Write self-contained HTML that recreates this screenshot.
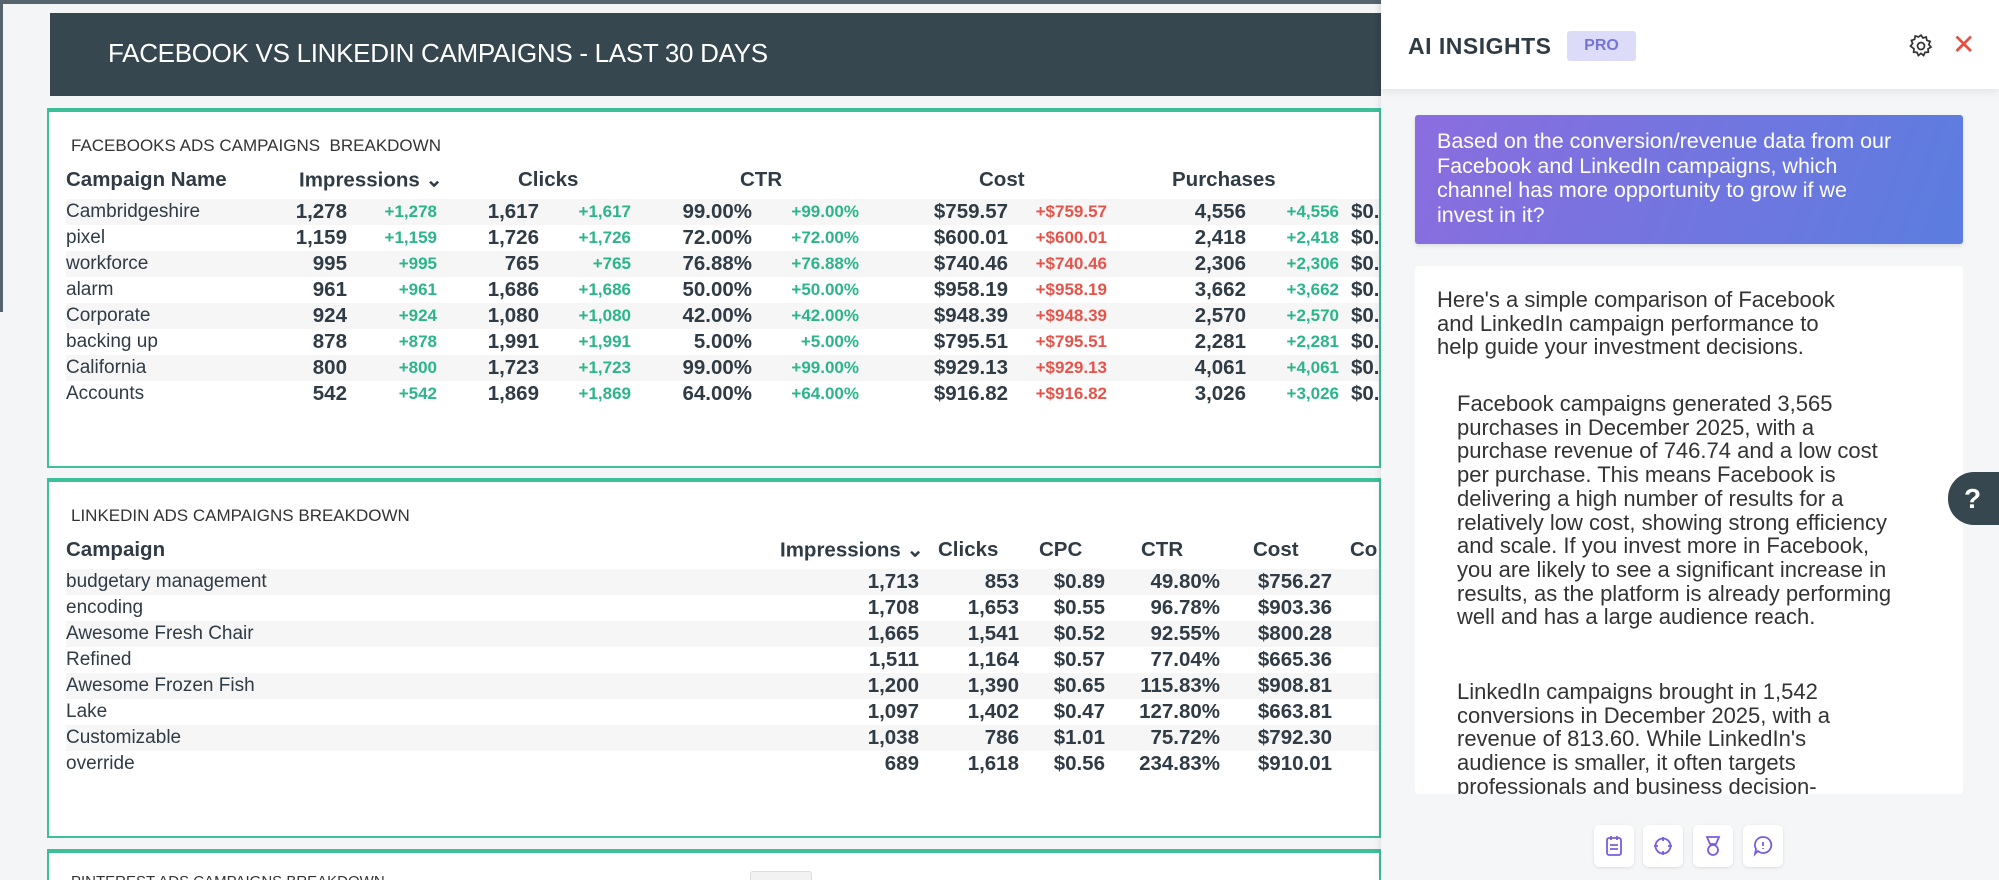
<!DOCTYPE html>
<html><head><meta charset="utf-8"><style>
*{margin:0;padding:0;box-sizing:border-box}
html,body{width:1999px;height:880px;overflow:hidden}
body{background:#f4f5f6;font-family:"Liberation Sans",sans-serif;color:#2f3b45;position:relative}
.abs{position:absolute}
.panel{position:absolute;left:47px;width:1334px;background:#fff;border:2px solid #3dbf9a;border-top-width:4px;overflow:hidden}
.ptitle{position:absolute;left:22px;font-size:17px;color:#333;white-space:nowrap}
.hd{position:absolute;font-size:20.5px;font-weight:bold;white-space:nowrap;transform:translateY(-50%)}
.row{position:absolute;left:17px;right:0;height:26px;font-size:19px;line-height:26px;white-space:nowrap}
.row.g{background:#f6f6f6}
.row span{position:absolute;top:0}
.v{font-weight:bold;font-size:20.5px}
.gr{color:#2bb58a;font-size:17px;font-weight:bold}
.rd{color:#e5534b;font-size:17px;font-weight:bold}
.ai p{font-size:22px;line-height:23.7px;color:#333}
</style></head><body>
<div class="abs" style="left:0;top:0;width:1381px;height:4px;background:#56646e"></div>
<div class="abs" style="left:0;top:0;width:3px;height:312px;background:#56646e"></div>
<div class="abs" style="left:50px;top:13px;width:1331px;height:83px;background:#36474f"></div>
<div class="abs" style="left:108px;top:38px;font-size:26px;color:#fff;letter-spacing:-0.3px;white-space:nowrap">FACEBOOK VS LINKEDIN CAMPAIGNS - LAST 30 DAYS</div>

<!-- Facebook panel -->
<div class="panel" style="top:108px;height:360px">
<div class="ptitle" style="top:24px">FACEBOOKS ADS CAMPAIGNS&nbsp; BREAKDOWN</div>
<div class="hd" style="left:17px;top:68px">Campaign Name</div>
<div class="hd" style="left:250px;top:68px">Impressions &#8964;</div>
<div class="hd" style="left:469px;top:68px">Clicks</div>
<div class="hd" style="left:691px;top:68px">CTR</div>
<div class="hd" style="left:930px;top:68px">Cost</div>
<div class="hd" style="left:1123px;top:68px">Purchases</div>
<div class="row g" style="top:87px"><span style="left:0">Cambridgeshire</span><span class="v" style="right:1032px">1,278</span><span class="gr" style="right:942px">+1,278</span><span class="v" style="right:840px">1,617</span><span class="gr" style="right:748px">+1,617</span><span class="v" style="right:627px">99.00%</span><span class="gr" style="right:520px">+99.00%</span><span class="v" style="right:371px">$759.57</span><span class="rd" style="right:272px">+$759.57</span><span class="v" style="right:133px">4,556</span><span class="gr" style="right:40px">+4,556</span><span class="v" style="left:1285px">$0.</span></div>
<div class="row" style="top:113px"><span style="left:0">pixel</span><span class="v" style="right:1032px">1,159</span><span class="gr" style="right:942px">+1,159</span><span class="v" style="right:840px">1,726</span><span class="gr" style="right:748px">+1,726</span><span class="v" style="right:627px">72.00%</span><span class="gr" style="right:520px">+72.00%</span><span class="v" style="right:371px">$600.01</span><span class="rd" style="right:272px">+$600.01</span><span class="v" style="right:133px">2,418</span><span class="gr" style="right:40px">+2,418</span><span class="v" style="left:1285px">$0.</span></div>
<div class="row g" style="top:139px"><span style="left:0">workforce</span><span class="v" style="right:1032px">995</span><span class="gr" style="right:942px">+995</span><span class="v" style="right:840px">765</span><span class="gr" style="right:748px">+765</span><span class="v" style="right:627px">76.88%</span><span class="gr" style="right:520px">+76.88%</span><span class="v" style="right:371px">$740.46</span><span class="rd" style="right:272px">+$740.46</span><span class="v" style="right:133px">2,306</span><span class="gr" style="right:40px">+2,306</span><span class="v" style="left:1285px">$0.</span></div>
<div class="row" style="top:165px"><span style="left:0">alarm</span><span class="v" style="right:1032px">961</span><span class="gr" style="right:942px">+961</span><span class="v" style="right:840px">1,686</span><span class="gr" style="right:748px">+1,686</span><span class="v" style="right:627px">50.00%</span><span class="gr" style="right:520px">+50.00%</span><span class="v" style="right:371px">$958.19</span><span class="rd" style="right:272px">+$958.19</span><span class="v" style="right:133px">3,662</span><span class="gr" style="right:40px">+3,662</span><span class="v" style="left:1285px">$0.</span></div>
<div class="row g" style="top:191px"><span style="left:0">Corporate</span><span class="v" style="right:1032px">924</span><span class="gr" style="right:942px">+924</span><span class="v" style="right:840px">1,080</span><span class="gr" style="right:748px">+1,080</span><span class="v" style="right:627px">42.00%</span><span class="gr" style="right:520px">+42.00%</span><span class="v" style="right:371px">$948.39</span><span class="rd" style="right:272px">+$948.39</span><span class="v" style="right:133px">2,570</span><span class="gr" style="right:40px">+2,570</span><span class="v" style="left:1285px">$0.</span></div>
<div class="row" style="top:217px"><span style="left:0">backing up</span><span class="v" style="right:1032px">878</span><span class="gr" style="right:942px">+878</span><span class="v" style="right:840px">1,991</span><span class="gr" style="right:748px">+1,991</span><span class="v" style="right:627px">5.00%</span><span class="gr" style="right:520px">+5.00%</span><span class="v" style="right:371px">$795.51</span><span class="rd" style="right:272px">+$795.51</span><span class="v" style="right:133px">2,281</span><span class="gr" style="right:40px">+2,281</span><span class="v" style="left:1285px">$0.</span></div>
<div class="row g" style="top:243px"><span style="left:0">California</span><span class="v" style="right:1032px">800</span><span class="gr" style="right:942px">+800</span><span class="v" style="right:840px">1,723</span><span class="gr" style="right:748px">+1,723</span><span class="v" style="right:627px">99.00%</span><span class="gr" style="right:520px">+99.00%</span><span class="v" style="right:371px">$929.13</span><span class="rd" style="right:272px">+$929.13</span><span class="v" style="right:133px">4,061</span><span class="gr" style="right:40px">+4,061</span><span class="v" style="left:1285px">$0.</span></div>
<div class="row" style="top:269px"><span style="left:0">Accounts</span><span class="v" style="right:1032px">542</span><span class="gr" style="right:942px">+542</span><span class="v" style="right:840px">1,869</span><span class="gr" style="right:748px">+1,869</span><span class="v" style="right:627px">64.00%</span><span class="gr" style="right:520px">+64.00%</span><span class="v" style="right:371px">$916.82</span><span class="rd" style="right:272px">+$916.82</span><span class="v" style="right:133px">3,026</span><span class="gr" style="right:40px">+3,026</span><span class="v" style="left:1285px">$0.</span></div>
</div>

<!-- LinkedIn panel -->
<div class="panel" style="top:478px;height:360px">
<div class="ptitle" style="top:24px">LINKEDIN ADS CAMPAIGNS BREAKDOWN</div>
<div class="hd" style="left:17px;top:68px">Campaign</div>
<div class="hd" style="left:731px;top:68px">Impressions &#8964;</div>
<div class="hd" style="left:889px;top:68px">Clicks</div>
<div class="hd" style="left:990px;top:68px">CPC</div>
<div class="hd" style="left:1092px;top:68px">CTR</div>
<div class="hd" style="left:1204px;top:68px">Cost</div>
<div class="hd" style="left:1301px;top:68px">Co</div>
<div class="row g" style="top:87px"><span style="left:0">budgetary management</span><span class="v" style="right:460px">1,713</span><span class="v" style="right:360px">853</span><span class="v" style="right:274px">$0.89</span><span class="v" style="right:159px">49.80%</span><span class="v" style="right:47px">$756.27</span></div>
<div class="row" style="top:113px"><span style="left:0">encoding</span><span class="v" style="right:460px">1,708</span><span class="v" style="right:360px">1,653</span><span class="v" style="right:274px">$0.55</span><span class="v" style="right:159px">96.78%</span><span class="v" style="right:47px">$903.36</span></div>
<div class="row g" style="top:139px"><span style="left:0">Awesome Fresh Chair</span><span class="v" style="right:460px">1,665</span><span class="v" style="right:360px">1,541</span><span class="v" style="right:274px">$0.52</span><span class="v" style="right:159px">92.55%</span><span class="v" style="right:47px">$800.28</span></div>
<div class="row" style="top:165px"><span style="left:0">Refined</span><span class="v" style="right:460px">1,511</span><span class="v" style="right:360px">1,164</span><span class="v" style="right:274px">$0.57</span><span class="v" style="right:159px">77.04%</span><span class="v" style="right:47px">$665.36</span></div>
<div class="row g" style="top:191px"><span style="left:0">Awesome Frozen Fish</span><span class="v" style="right:460px">1,200</span><span class="v" style="right:360px">1,390</span><span class="v" style="right:274px">$0.65</span><span class="v" style="right:159px">115.83%</span><span class="v" style="right:47px">$908.81</span></div>
<div class="row" style="top:217px"><span style="left:0">Lake</span><span class="v" style="right:460px">1,097</span><span class="v" style="right:360px">1,402</span><span class="v" style="right:274px">$0.47</span><span class="v" style="right:159px">127.80%</span><span class="v" style="right:47px">$663.81</span></div>
<div class="row g" style="top:243px"><span style="left:0">Customizable</span><span class="v" style="right:460px">1,038</span><span class="v" style="right:360px">786</span><span class="v" style="right:274px">$1.01</span><span class="v" style="right:159px">75.72%</span><span class="v" style="right:47px">$792.30</span></div>
<div class="row" style="top:269px"><span style="left:0">override</span><span class="v" style="right:460px">689</span><span class="v" style="right:360px">1,618</span><span class="v" style="right:274px">$0.56</span><span class="v" style="right:159px">234.83%</span><span class="v" style="right:47px">$910.01</span></div>
</div>

<!-- Pinterest panel -->
<div class="panel" style="top:849px;height:31px;border-bottom:none">
<div class="ptitle" style="top:20px;font-size:15px">PINTEREST ADS CAMPAIGNS BREAKDOWN</div>
</div>
<div class="abs" style="left:750px;top:871px;width:62px;height:9px;background:#f2f2f2;border:1px solid #ddd;border-bottom:none;border-radius:3px 3px 0 0"></div>

<!-- AI panel -->
<div class="abs" style="left:1381px;top:0;width:618px;height:880px;background:#f5f6f7;box-shadow:-2px 0 6px rgba(0,0,0,0.08)"></div>
<div class="abs" style="left:1381px;top:0;width:618px;height:89px;background:#fff;box-shadow:0 3px 8px rgba(0,0,0,0.07)"></div>
<div class="abs" style="left:1408px;top:33px;font-size:23px;font-weight:bold;color:#2f3b45;letter-spacing:0.5px">AI INSIGHTS</div>
<div class="abs" style="left:1567px;top:31px;width:69px;height:30px;background:#dcdcf8;color:#7575d6;font-weight:bold;font-size:16px;line-height:30px;text-align:center;border-radius:3px">PRO</div>
<svg class="abs" style="left:1908px;top:33px" width="26" height="26" viewBox="0 0 24 24" fill="none" stroke="#333" stroke-width="1.6"><circle cx="12" cy="12" r="3.2"/><path d="M12 2l1.8 2.6 3-.9.6 3.1 3 1-1.2 2.9 2 2.3-2.7 1.6.3 3.1-3.1.2-1.3 2.9-2.4-2-2.4 2-1.3-2.9-3.1-.2.3-3.1L2.3 12l2-2.3L3.1 6.8l3-1 .6-3.1 3 .9z"/></svg>
<div class="abs" style="left:1952px;top:28px;font-size:28px;color:#e74c3c">✕</div>

<div class="abs" style="left:1415px;top:115px;width:548px;height:129px;background:linear-gradient(110deg,#8b6ddf,#5b7ddf);border-radius:3px;box-shadow:0 2px 4px rgba(0,0,0,0.1)"></div>
<div class="abs" style="left:1437px;top:129px;width:472px;font-size:21.5px;line-height:24.5px;color:#fff">Based on the conversion/revenue data from our Facebook and LinkedIn campaigns, which channel has more opportunity to grow if we invest in it?</div>

<div class="abs" style="left:1415px;top:266px;width:548px;height:528px;background:#fff;border-radius:4px;overflow:hidden">
<div class="ai abs" style="left:22px;top:22px;width:425px"><p>Here's a simple comparison of Facebook and LinkedIn campaign performance to help guide your investment decisions.</p></div>
<div class="ai abs" style="left:42px;top:126px;width:452px"><p>Facebook campaigns generated 3,565 purchases in December 2025, with a purchase revenue of 746.74 and a low cost per purchase. This means Facebook is delivering a high number of results for a relatively low cost, showing strong efficiency and scale. If you invest more in Facebook, you are likely to see a significant increase in results, as the platform is already performing well and has a large audience reach.</p></div>
<div class="ai abs" style="left:42px;top:414px;width:430px"><p>LinkedIn campaigns brought in 1,542 conversions in December 2025, with a revenue of 813.60. While LinkedIn's audience is smaller, it often targets professionals and business decision-makers.</p></div>
</div>

<div class="abs" style="left:1948px;top:472px;width:60px;height:53px;background:#37474f;border-radius:26px 0 0 26px;color:#fff;font-size:28px;font-weight:bold;line-height:53px;padding-left:16px">?</div>

<div class="abs" style="left:1594px;top:825px;width:40px;height:42px;background:#fff;border-radius:6px;box-shadow:0 1px 3px rgba(0,0,0,0.1)"></div>
<div class="abs" style="left:1643px;top:825px;width:40px;height:42px;background:#fff;border-radius:6px;box-shadow:0 1px 3px rgba(0,0,0,0.1)"></div>
<div class="abs" style="left:1693px;top:825px;width:40px;height:42px;background:#fff;border-radius:6px;box-shadow:0 1px 3px rgba(0,0,0,0.1)"></div>
<div class="abs" style="left:1743px;top:825px;width:40px;height:42px;background:#fff;border-radius:6px;box-shadow:0 1px 3px rgba(0,0,0,0.1)"></div>
<svg class="abs" style="left:1604px;top:835px" width="20" height="22" viewBox="0 0 20 22" fill="none" stroke="#7a5ce0" stroke-width="1.8"><rect x="3" y="3" width="14" height="17" rx="2"/><path d="M7 1v4M13 1v4M6 10h8M6 14h8"/></svg>
<svg class="abs" style="left:1653px;top:836px" width="20" height="20" viewBox="0 0 20 20" fill="none" stroke="#7a5ce0" stroke-width="1.8"><circle cx="10" cy="10" r="7.5"/><path d="M10 1v4M10 15v4M1 10h4M15 10h4"/></svg>
<svg class="abs" style="left:1703px;top:835px" width="20" height="22" viewBox="0 0 20 22" fill="none" stroke="#7a5ce0" stroke-width="1.8"><path d="M4 2h12l-3 7H7z"/><circle cx="10" cy="15" r="5"/></svg>
<svg class="abs" style="left:1753px;top:835px" width="20" height="22" viewBox="0 0 20 22" fill="none" stroke="#7a5ce0" stroke-width="1.8"><path d="M10 2a8 8 0 1 1-5 14l-3 3 1-5A8 8 0 0 1 10 2z"/><path d="M10 7v4M10 13v1"/></svg>
</body></html>
